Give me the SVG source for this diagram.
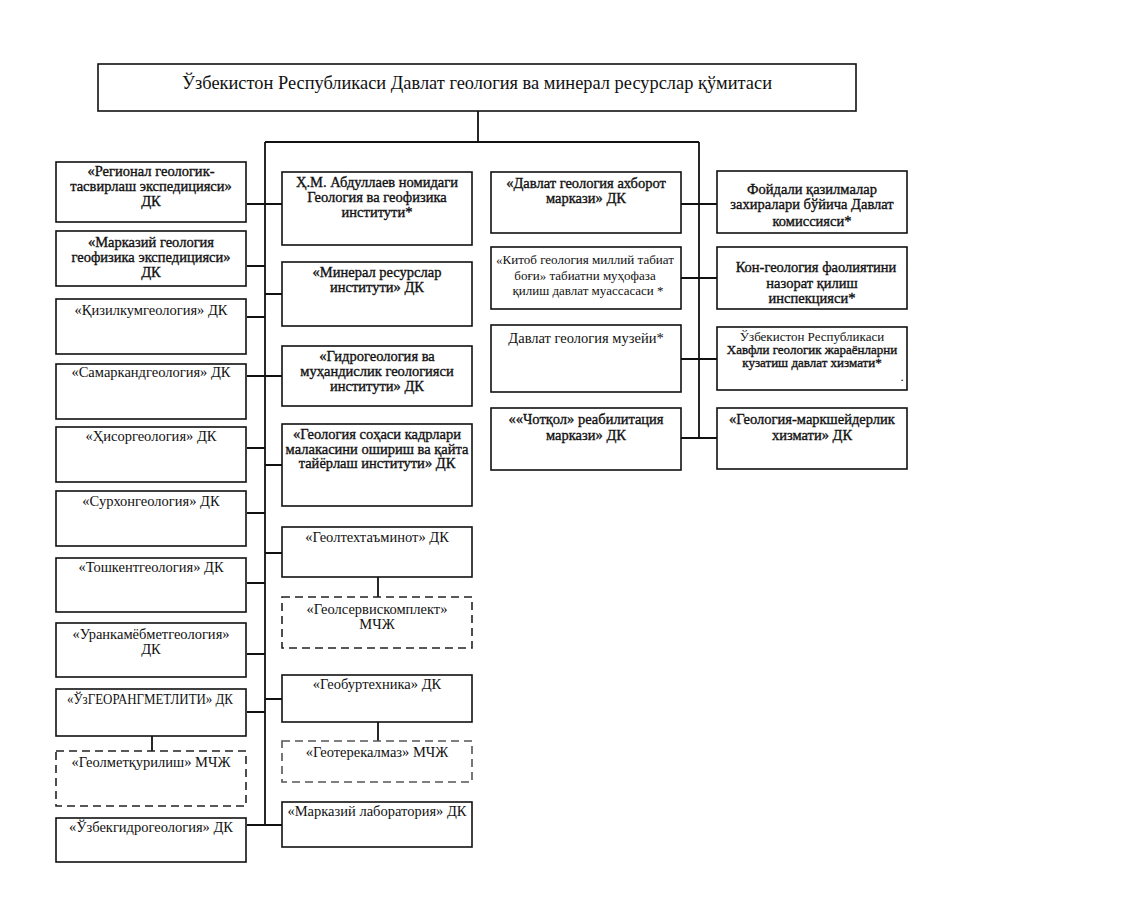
<svg xmlns="http://www.w3.org/2000/svg" width="1138" height="898" viewBox="0 0 1138 898">
<style>
.b{fill:#fff;stroke:#111;stroke-width:1.6}
.d{fill:#fff;stroke:#222;stroke-width:1.6;stroke-dasharray:8,5}
.c{fill:none;stroke:#111;stroke-width:1.8}
text{font-family:"Liberation Serif","Times New Roman",serif;font-size:14.5px;fill:#111;text-anchor:middle}
.t{font-size:19px}
.s{font-size:13px}
.w{stroke:#111;stroke-width:0.35}
</style>
<rect width="1138" height="898" fill="#fff"/>
<g id="connectors">
<path class="c" d="M478,111V142M265,142H699M265,142V825M699,142V438"/>
<path class="c" d="M247,204H282M247,266H265M265,294H282M247,317H265M247,376H282M247,448H265M265,465H282M247,513H265M265,553H282M247,583H265M247,654H265M265,699H282M247,712H265M247,825H282"/>
<path class="c" d="M378,577V597M378,722V741M152,736V751"/>
<path class="c" d="M681,204H717M681,278H717M681,359H717M681,438H717"/>
</g>
<g id="root"><rect class="b" x="98" y="64" width="758" height="47"/><text class="t" x="477" y="89" textLength="590" lengthAdjust="spacingAndGlyphs">Ўзбекистон Республикаси Давлат геология ва минерал ресурслар қўмитаси</text></g>
<g id="l1"><rect class="b" x="56" y="162" width="190" height="60"/><text class="w" x="151" y="176">«Регионал геологик-</text><text class="w" x="151" y="191">тасвирлаш экспедицияси»</text><text class="w" x="151" y="206">ДК</text></g>
<g id="l2"><rect class="b" x="56" y="231" width="190" height="55"/><text class="w" x="151" y="247">«Марказий геология</text><text class="w" x="151" y="262">геофизика экспедицияси»</text><text class="w" x="151" y="277">ДК</text></g>
<g id="l3"><rect class="b" x="56" y="299" width="190" height="55"/><text x="151" y="315">«Қизилкумгеология» ДК</text></g>
<g id="l4"><rect class="b" x="56" y="364" width="190" height="55"/><text x="151" y="377">«Самаркандгеология» ДК</text></g>
<g id="l5"><rect class="b" x="56" y="427" width="190" height="55"/><text x="151" y="441">«Ҳисоргеология» ДК</text></g>
<g id="l6"><rect class="b" x="56" y="491" width="190" height="55"/><text x="151" y="506">«Сурхонгеология» ДК</text></g>
<g id="l7"><rect class="b" x="56" y="558" width="190" height="54"/><text x="151" y="572">«Тошкентгеология» ДК</text></g>
<g id="l8"><rect class="b" x="56" y="623" width="190" height="54"/><text x="151" y="639">«Уранкамёбметгеология»</text><text x="151" y="654">ДК</text></g>
<g id="l9"><rect class="b" x="56" y="689" width="190" height="47"/><text x="150" y="704" textLength="166" lengthAdjust="spacingAndGlyphs">«ЎзГЕОРАНГМЕТЛИТИ» ДК</text></g>
<g id="l10"><rect class="d" x="56" y="751" width="190" height="55"/><text x="151" y="767">«Геолметқурилиш» МЧЖ</text></g>
<g id="l11"><rect class="b" x="56" y="818" width="190" height="44"/><text x="151" y="832">«Ўзбекгидрогеология» ДК</text></g>
<g id="m1"><rect class="b" x="282" y="172" width="190" height="73"/><text class="w" x="377" y="187">Ҳ.М. Абдуллаев номидаги</text><text class="w" x="377" y="202">Геология ва геофизика</text><text class="w" x="377" y="217">институти*</text></g>
<g id="m2"><rect class="b" x="282" y="262" width="190" height="64"/><text class="w" x="377" y="277">«Минерал ресурслар</text><text class="w" x="377" y="292">институти» ДК</text></g>
<g id="m3"><rect class="b" x="282" y="346" width="190" height="60"/><text class="w" x="377" y="361">«Гидрогеология ва</text><text class="w" x="377" y="376">муҳандислик геологияси</text><text class="w" x="377" y="391">институти» ДК</text></g>
<g id="m4"><rect class="b" x="282" y="424" width="190" height="82"/><text class="w" x="377" y="439">«Геология соҳаси кадрлари</text><text class="w" x="377" y="454">малакасини ошириш ва қайта</text><text class="w" x="377" y="468">тайёрлаш институти» ДК</text></g>
<g id="m5"><rect class="b" x="282" y="527" width="190" height="50"/><text x="377" y="542">«Геолтехтаъминот» ДК</text></g>
<g id="m6"><rect class="d" x="282" y="597" width="190" height="51"/><text x="377" y="614">«Геолсервискомплект»</text><text x="377" y="629">МЧЖ</text></g>
<g id="m7"><rect class="b" x="282" y="675" width="190" height="47"/><text x="377" y="689">«Геобуртехника» ДК</text></g>
<g id="m8"><rect class="d" x="282" y="741" width="190" height="41" style="stroke:#555"/><text x="377" y="757">«Геотерекалмаз» МЧЖ</text></g>
<g id="m9"><rect class="b" x="282" y="802" width="190" height="45"/><text x="377" y="816">«Марказий лаборатория» ДК</text></g>
<g id="r1"><rect class="b" x="491" y="172" width="190" height="61"/><text class="w" x="586" y="188">«Давлат геология ахборот</text><text class="w" x="586" y="203">маркази» ДК</text></g>
<g id="r2"><rect class="b" x="491" y="247" width="190" height="62"/><text class="s" x="585" y="264" textLength="178" lengthAdjust="spacingAndGlyphs">«Китоб геология миллий табиат</text><text class="s" x="585" y="280">боғи» табиатни муҳофаза</text><text class="s" x="588" y="295">қилиш давлат муассасаси *</text></g>
<g id="r3"><rect class="b" x="491" y="325" width="190" height="67"/><text x="586" y="343">Давлат геология музейи*</text></g>
<g id="r4"><rect class="b" x="491" y="408" width="190" height="62"/><text class="w" x="586" y="424">««Чотқол» реабилитация</text><text class="w" x="586" y="440">маркази» ДК</text></g>
<g id="q1"><rect class="b" x="717" y="171" width="190" height="62"/><text class="w" x="812" y="194">Фойдали қазилмалар</text><text class="w" x="812" y="209">захиралари бўйича Давлат</text><text class="w" x="812" y="226">комиссияси*</text></g>
<g id="q2"><rect class="b" x="717" y="247" width="190" height="62"/><text class="w" x="816" y="272">Кон-геология фаолиятини</text><text class="w" x="812" y="288">назорат қилиш</text><text class="w" x="812" y="303">инспекцияси*</text></g>
<g id="q3"><rect class="b" x="717" y="327" width="190" height="63"/><text class="s" x="812" y="341">Ўзбекистон Республикаси</text><text class="s w" x="812" y="354">Хавфли геологик жараёнларни</text><text class="s w" x="812" y="367">кузатиш давлат хизмати*</text><text class="s" x="902" y="381">.</text></g>
<g id="q4"><rect class="b" x="717" y="408" width="190" height="61"/><text class="w" x="812" y="424">«Геология-маркшейдерлик</text><text class="w" x="812" y="440">хизмати» ДК</text></g>
</svg>
